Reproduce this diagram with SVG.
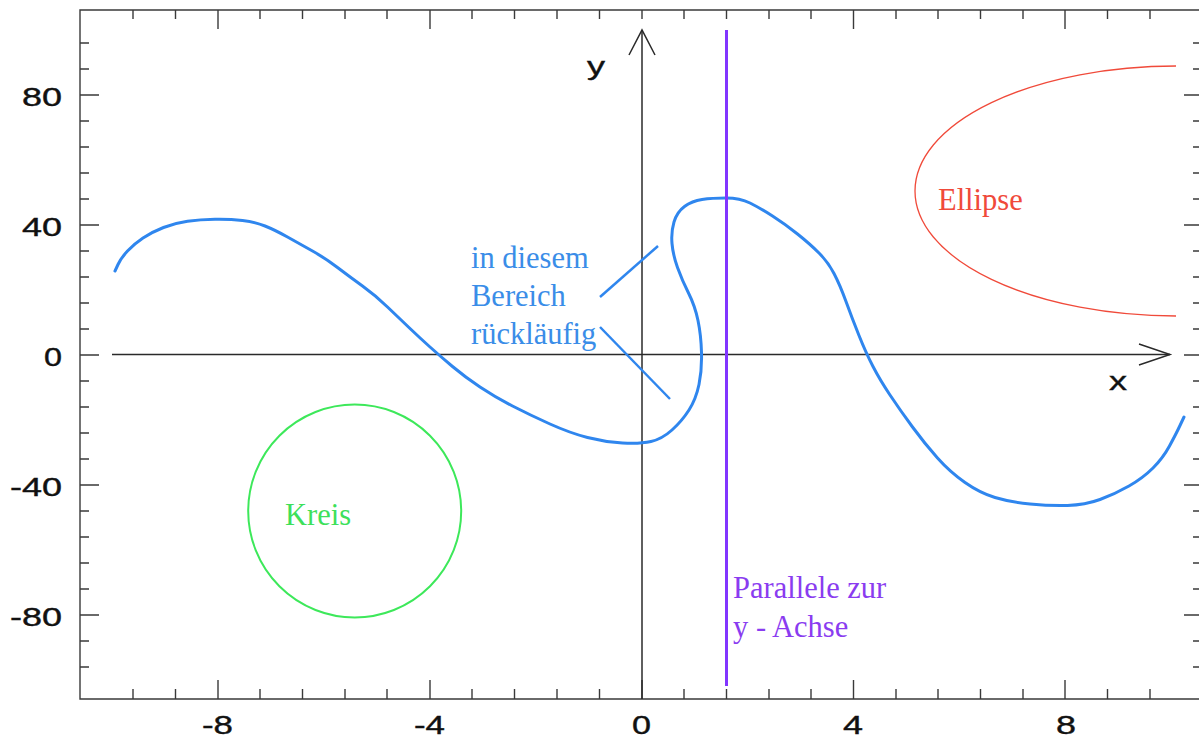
<svg xmlns="http://www.w3.org/2000/svg" width="1199" height="738" viewBox="0 0 1199 738">
<style>
.frame{stroke:#3a3a3a;stroke-width:1.4;fill:none}
.tick{stroke:#3a3a3a;stroke-width:1.4}
.axis{stroke:#2a2a2a;stroke-width:1.5;fill:none}
.num{font-family:"Liberation Sans",Arial,sans-serif;font-size:26px;fill:#111;stroke:#111;stroke-width:0.4}
.ser{font-family:"Liberation Serif","Times New Roman",serif;font-size:30.5px}
</style>
<rect width="1199" height="738" fill="#fff"/>
<g id="frame">
<path class="frame" d="M1205,10 H80 V699 H1205"/>
<g class="tick">
<path d="M80,43H89M80,69H89M80,95H99M80,121H89M80,147H89M80,173H89M80,199H89M80,225H99M80,251H89M80,277H89M80,303H89M80,329H89M80,355H99M80,381H89M80,407H89M80,433H89M80,459H89M80,485H99M80,511H89M80,537H89M80,563H89M80,589H89M80,615H99M80,641H89M80,667H89"/>
<path d="M1203,43H1193M1203,69H1193M1203,95H1184M1203,121H1193M1203,147H1193M1203,173H1193M1203,199H1193M1203,225H1184M1203,251H1193M1203,277H1193M1203,303H1193M1203,329H1193M1203,355H1184M1203,381H1193M1203,407H1193M1203,433H1193M1203,459H1193M1203,485H1184M1203,511H1193M1203,537H1193M1203,563H1193M1203,589H1193M1203,615H1184M1203,641H1193M1203,667H1193"/>
<path d="M133,699V689M175.5,699V689M218,699V680M260,699V689M302.5,699V689M345,699V689M387,699V689M430,699V680M472,699V689M514.5,699V689M557,699V689M599.5,699V689M642,699V680M684,699V689M726.5,699V689M769,699V689M811,699V689M853.5,699V680M896,699V689M938,699V689M980.5,699V689M1023,699V689M1065,699V680M1107.5,699V689M1150,699V689"/>
<path d="M133,10V19M175.5,10V19M218,10V29M260,10V19M302.5,10V19M345,10V19M387,10V19M430,10V29M472,10V19M514.5,10V19M557,10V19M599.5,10V19M642,10V19M684,10V19M726.5,10V19M769,10V19M811,10V19M853.5,10V29M896,10V19M938,10V19M980.5,10V19M1023,10V19M1065,10V29M1107.5,10V19M1150,10V19"/>
</g>
<g class="num" text-anchor="end">
<text x="62" y="106" textLength="40" lengthAdjust="spacingAndGlyphs">80</text>
<text x="62" y="236" textLength="40" lengthAdjust="spacingAndGlyphs">40</text>
<text x="62" y="366" textLength="18" lengthAdjust="spacingAndGlyphs">0</text>
<text x="62" y="496" textLength="52" lengthAdjust="spacingAndGlyphs">-40</text>
<text x="62" y="626" textLength="52" lengthAdjust="spacingAndGlyphs">-80</text>
</g>
<g class="num">
<text x="202" y="734" textLength="31" lengthAdjust="spacingAndGlyphs">-8</text>
<text x="414" y="734" textLength="31" lengthAdjust="spacingAndGlyphs">-4</text>
<text x="632" y="734" textLength="19" lengthAdjust="spacingAndGlyphs">0</text>
<text x="843" y="734" textLength="20" lengthAdjust="spacingAndGlyphs">4</text>
<text x="1056" y="734" textLength="20" lengthAdjust="spacingAndGlyphs">8</text>
</g>
</g>
<g id="connectors">
<g id="x-axis" class="axis">
<path d="M112,354.5H1170"/>
<path d="M1139,344L1170,354.5L1139,365"/>
</g>
<g id="y-axis" class="axis">
<path d="M642,699V30"/>
<path d="M629,55L642,30L655,55"/>
</g>
<path id="pointer1" d="M600,297L658,246" stroke="#2f86ee" stroke-width="2.5" fill="none"/>
<path id="pointer2" d="M600,327L670,399" stroke="#2f86ee" stroke-width="2.5" fill="none"/>
</g>
<g id="axis-labels" class="num">
<text x="587" y="75" textLength="18" lengthAdjust="spacingAndGlyphs">y</text>
<text x="1109" y="390" textLength="18" lengthAdjust="spacingAndGlyphs">x</text>
</g>
<g id="curve">
<path d="M115,271 L118,264.5 Q121,258 127.5,251 Q134,244 143,238 Q152,232 163.5,227.5 Q175,223 187.5,221.25 Q200,219.5 215,219.25 Q230,219 242.5,220.5 Q255,222 265,226 Q275,230 287.5,237 Q300,244 312.5,251 Q325,258 337.5,267.5 Q350,277 362.5,286 Q375,295 387.5,307 Q400,319 410,328.5 Q420,338 430,347 Q440,356 452.5,366.5 Q465,377 480,387 Q495,397 512.5,406 Q530,415 550,424 Q570,433 587.5,437.5 Q605,442 622.5,443 Q640,444 651,441.5 Q662,439 672,430 Q682,421 689,410 Q696,399 699,384.5 Q702,370 701.5,352.5 Q701,335 698,320.5 Q695,306 688.5,293 Q682,280 677.5,267.5 Q673,255 672,243.5 Q671,232 674,222 Q677,212 684.5,206.5 Q692,201 702,199.5 Q712,198 726,198 Q740,198 750,203 Q760,208 772.5,216 Q785,224 797.5,234 Q810,244 819,253 Q828,262 834,273.5 Q840,285 846,301.5 Q852,318 859,335.5 Q866,353 873,366.5 Q880,380 890,395 Q900,410 912.5,427 Q925,444 937.5,458 Q950,472 965,482.5 Q980,493 995,497.5 Q1010,502 1030,504 Q1050,506 1067.5,505.5 Q1085,505 1100,499.5 Q1115,494 1129,486 Q1143,478 1153,468 Q1163,458 1169.5,446 Q1176,434 1180,425.5 L1184,417" fill="none" stroke="#2f86ee" stroke-width="3" stroke-linejoin="round" stroke-linecap="round"/>
</g>
<g id="note" class="ser" fill="#3a8de8">
<text x="471" y="268">in diesem</text>
<text x="471" y="306">Bereich</text>
<text x="471" y="344">rückläufig</text>
</g>
<g id="kreis">
<circle cx="354.7" cy="511" r="106.5" fill="none" stroke="#3de85a" stroke-width="2"/>
<text class="ser" x="285" y="525" fill="#3de05a">Kreis</text>
</g>
<g id="ellipse">
<path d="M1176,66 A261,125 0 0 0 1176,316" fill="none" stroke="#f04a3a" stroke-width="1.3"/>
<text class="ser" x="938" y="210" fill="#f04a3a">Ellipse</text>
</g>
<g id="parallele">
<path d="M726.5,30V686" stroke="#8235ff" stroke-width="3"/>
<text class="ser" x="733" y="598" fill="#8a3cf0">Parallele zur</text>
<text class="ser" x="733" y="637" fill="#8a3cf0">y - Achse</text>
</g>
</svg>
